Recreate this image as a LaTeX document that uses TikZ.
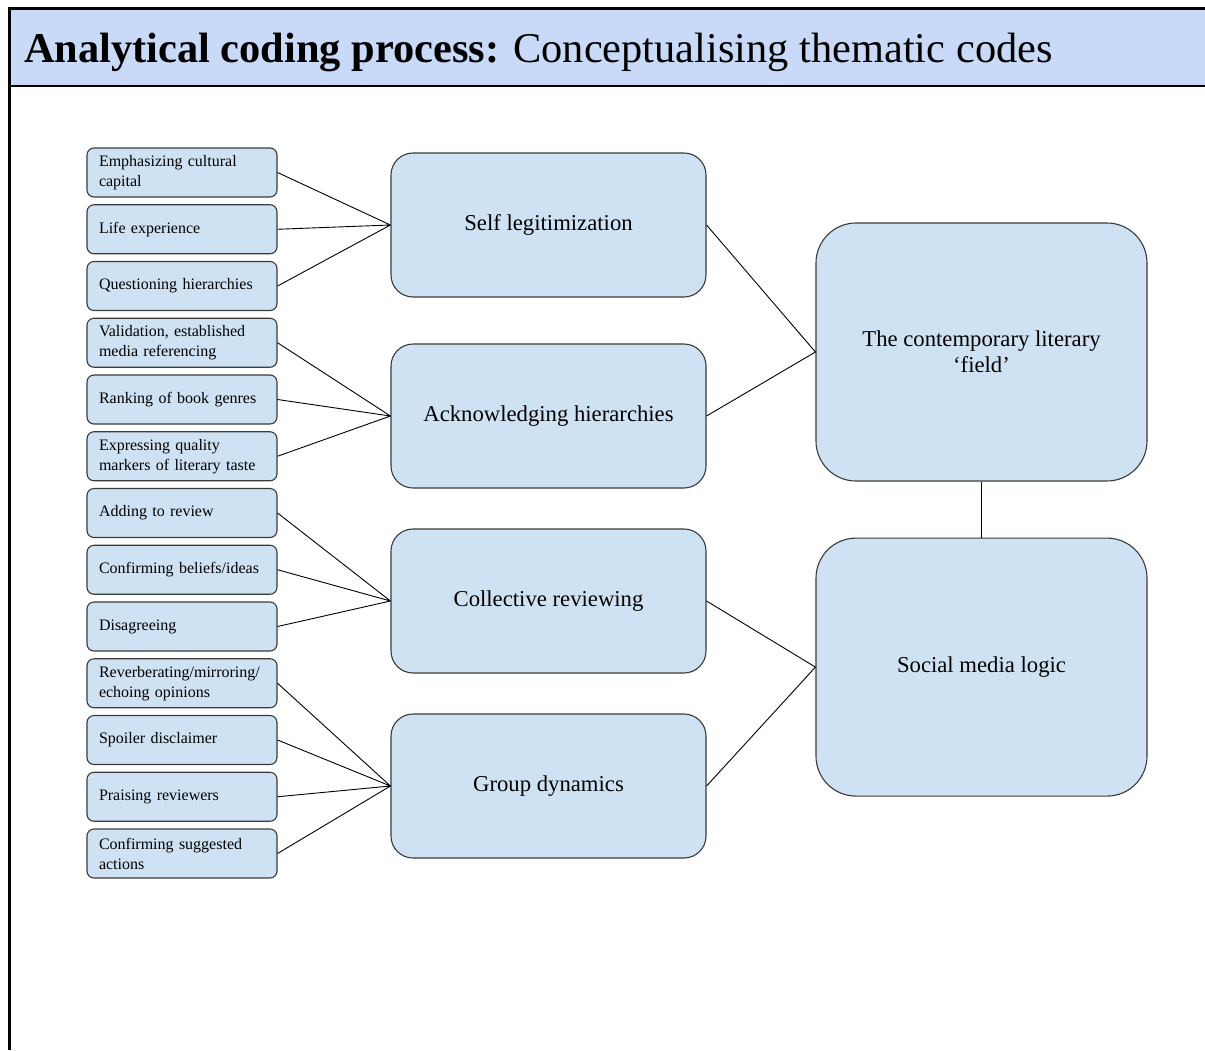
\documentclass[tikz,border=0pt]{standalone}
\usepackage{fontspec}
\setmainfont{Liberation Serif}
\usetikzlibrary{positioning}
\definecolor{boxblue}{HTML}{CFE2F3}
\definecolor{titleblue}{HTML}{C9DAF8}
\definecolor{edgegray}{HTML}{3A3A3A}

\begin{document}
\begin{tikzpicture}[x=1pt,y=-1pt,node distance=6.65pt,
  code/.style={draw=edgegray,fill=boxblue,rounded corners=7pt,line width=1.1pt,
    minimum width=190pt,minimum height=49pt,text width=166pt,inner sep=0pt,
    align=left,font=\fontsize{16}{20}\selectfont},
  theme/.style={draw=edgegray,fill=boxblue,rounded corners=22pt,line width=1.1pt,
    minimum width=315pt,minimum height=144pt,align=center,font=\fontsize{22.7}{26}\selectfont},
  field/.style={theme,rounded corners=40pt,minimum width=331pt,minimum height=258pt},
  link/.style={draw=black,line width=0.9pt}]
\useasboundingbox (0,0) rectangle (1205,1050);
\fill[titleblue] (9,8) rectangle (1205,86);
\draw[line width=3pt] (1205,8) -- (9,8) -- (9,1050);
\draw[line width=2pt] (9,86) -- (1205,86);
\node[anchor=base west,inner sep=0pt,font=\fontsize{42.4}{48}\selectfont] (title) at (24,62)
  {\textbf{Analytical coding process:} Conceptualising thematic codes};

\node[code] (c1) at (182,172.5) {Emphasizing cultural\\capital};
\node[code,below=of c1] (c2) {Life experience};
\node[code,below=of c2] (c3) {Questioning hierarchies};
\node[code,below=of c3] (c4) {Validation, established\\media referencing};
\node[code,below=of c4] (c5) {Ranking of book genres};
\node[code,below=of c5] (c6) {Expressing quality\\markers of literary taste};
\node[code,below=of c6] (c7) {Adding to review};
\node[code,below=of c7] (c8) {Confirming beliefs/ideas};
\node[code,below=of c8] (c9) {Disagreeing};
\node[code,below=of c9] (c10) {Reverberating/mirroring/\\echoing opinions};
\node[code,below=of c10] (c11) {Spoiler disclaimer};
\node[code,below=of c11] (c12) {Praising reviewers};
\node[code,below=of c12] (c13) {Confirming suggested\\actions};

\node[theme] (selfleg) at (548.5,225) {Self legitimization};
\node[theme] (acknow) at (548.5,416) {Acknowledging hierarchies};
\node[theme] (collect) at (548.5,601) {Collective reviewing};
\node[theme] (group) at (548.5,786) {Group dynamics};

\node[field] (litfield) at (981.5,352) {The contemporary literary\\`field'};
\node[field,below=56pt of litfield] (smlogic) {Social media logic};

\draw[link] (c1.east) -- (selfleg.west) (c2.east) -- (selfleg.west) (c3.east) -- (selfleg.west);
\draw[link] (c4.east) -- (acknow.west) (c5.east) -- (acknow.west) (c6.east) -- (acknow.west);
\draw[link] (c7.east) -- (collect.west) (c8.east) -- (collect.west) (c9.east) -- (collect.west);
\draw[link] (c10.east) -- (group.west) (c11.east) -- (group.west)
  (c12.east) -- (group.west) (c13.east) -- (group.west);
\draw[link] (selfleg.east) -- (litfield.west) (acknow.east) -- (litfield.west);
\draw[link] (collect.east) -- (smlogic.west) (group.east) -- (smlogic.west);
\draw[link] (litfield) -- (smlogic);
\end{tikzpicture}
\end{document}
